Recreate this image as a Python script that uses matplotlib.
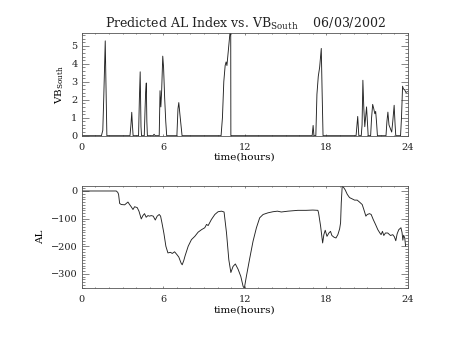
import matplotlib
matplotlib.use("Agg")
import matplotlib.pyplot as plt
from matplotlib.ticker import MultipleLocator

plt.rcParams['font.family'] = ['DejaVu Serif']
plt.rcParams['mathtext.fontset'] = 'dejavuserif'
plt.rcParams['text.color'] = '#222222'
plt.rcParams['xtick.labelcolor'] = '#222222'
plt.rcParams['ytick.labelcolor'] = '#222222'

# southward IMF driver (hours, value)
vb_time = [0.0, 1.45, 1.55, 1.62, 1.73, 1.78, 1.85,
           3.55, 3.62, 3.68, 3.72, 3.78,
           4.18, 4.24, 4.30, 4.36, 4.40,
           4.60, 4.66, 4.70, 4.75, 4.79, 4.83,
           5.25, 5.32, 5.40,
           5.70, 5.76, 5.82, 5.88, 5.96, 6.02, 6.10, 6.18, 6.25,
           7.00, 7.08, 7.14, 7.22, 7.30, 7.38,
           10.25, 10.35, 10.45, 10.55, 10.62, 10.68, 10.78, 10.90, 10.96, 10.97,
           16.95, 17.02, 17.08,
           17.22, 17.30, 17.40, 17.50, 17.62, 17.68, 17.75,
           20.18, 20.30, 20.38,
           20.56, 20.62, 20.68, 20.75, 20.82, 20.95, 21.07,
           21.25, 21.32, 21.40, 21.48, 21.56, 21.62, 21.68, 21.75,
           22.38, 22.45, 22.52, 22.60, 22.70, 22.80, 22.88, 22.98, 23.05, 23.10,
           23.45, 23.52, 23.60, 23.66, 23.75, 23.85, 23.95]
vb_value = [0, 0, 0.3, 2.1, 5.27, 3.0, 0,
            0, 0.6, 1.3, 0.7, 0,
            0, 2.0, 3.55, 0.5, 0,
            0, 1.5, 2.4, 2.93, 0.8, 0,
            0, 0.08, 0,
            0, 2.5, 1.6, 2.5, 4.42, 3.8, 2.1, 0.8, 0,
            0, 1.5, 1.84, 1.2, 0.6, 0,
            0, 1.0, 3.0, 3.9, 4.1, 3.9, 4.7, 5.68, 5.68, 0,
            0, 0.57, 0,
            0, 2.3, 3.3, 3.8, 4.85, 2.5, 0,
            0, 1.07, 0,
            0, 0.6, 3.08, 1.5, 0.5, 1.6, 0,
            0, 1.0, 1.74, 1.5, 1.22, 1.35, 0.8, 0,
            0, 0.8, 1.31, 0.6, 0.4, 0.2, 0.8, 1.69, 0.6, 0,
            0, 1.0, 2.75, 2.6, 2.55, 2.4, 2.45]

# predicted AL index (hours, nT)
al_time = [0.0, 2.54, 2.65, 2.71, 2.79, 2.91, 3.16, 3.40, 3.52, 3.64, 3.77, 3.89,
           4.08, 4.21, 4.38, 4.50, 4.62, 4.74, 4.87, 4.99, 5.11, 5.26, 5.41, 5.55,
           5.70, 5.80, 5.90, 6.04, 6.19, 6.34, 6.53, 6.66, 6.83, 7.00, 7.14, 7.31,
           7.39, 7.51, 7.60, 7.83, 8.07, 8.32, 8.56, 8.81, 9.05, 9.18, 9.30, 9.54,
           9.79, 10.03, 10.28, 10.47, 10.65, 10.82, 10.97, 11.13, 11.30, 11.50,
           11.70, 11.87, 11.96, 12.11, 12.36, 12.60, 12.85, 13.09, 13.34, 13.70,
           14.07, 14.40, 14.68, 15.17, 15.90, 16.50, 17.00, 17.37, 17.42, 17.57,
           17.72, 17.81, 17.91, 18.04, 18.18, 18.30, 18.40, 18.55, 18.70, 18.84,
           18.97, 19.04, 19.09, 19.16, 19.26, 19.38, 19.53, 19.70, 19.87, 20.07,
           20.26, 20.43, 20.63, 20.75, 20.90, 21.00, 21.17, 21.29, 21.44, 21.61,
           21.78, 21.93, 22.02, 22.12, 22.22, 22.34, 22.51, 22.71, 22.88, 23.00,
           23.10, 23.20, 23.32, 23.48, 23.56, 23.62, 23.68, 23.76, 23.82]
al_value = [0, 0, -5, -12, -45, -49, -50, -40, -49, -57, -67, -57,
            -60, -73, -101, -89, -82, -95, -89, -91, -89, -91, -105, -91,
            -85, -91, -115, -152, -200, -224, -222, -226, -220, -230, -239, -261,
            -267, -251, -235, -200, -176, -164, -149, -140, -133, -121, -125, -103,
            -85, -75, -73, -76, -152, -249, -295, -273, -264, -283,
            -309, -345, -352, -309, -243, -182, -133, -97, -85, -79,
            -75, -73, -76, -73, -70, -70, -69, -70, -79, -127,
            -188, -158, -142, -164, -152, -146, -161, -167, -170, -158,
            -137, -115, -43, 18, 13, 4, -12, -24, -28, -33,
            -33, -40, -49, -67, -91, -85, -82, -85, -103, -121,
            -140, -152, -158, -146, -161, -152, -152, -161, -158, -166,
            -180, -155, -140, -133, -150, -178, -160, -170, -199]

xticks = [0, 6, 12, 18, 24]

fig = plt.figure(figsize=(4.53, 3.40), dpi=100)
ax1 = fig.add_axes([0.1804, 0.6009, 0.7203, 0.3006])
ax2 = fig.add_axes([0.1804, 0.1521, 0.7203, 0.3008])


def style(ax, ymajor, yminor):
    ax.set_xlim(0, 24)
    ax.set_xticks(xticks)
    ax.xaxis.set_minor_locator(MultipleLocator(1))
    ax.yaxis.set_major_locator(MultipleLocator(ymajor))
    ax.yaxis.set_minor_locator(MultipleLocator(yminor))
    ax.tick_params(which='both', direction='in', top=True, right=True,
                   width=0.5, color='#555555', labelsize=7)
    ax.tick_params(axis='x', which='major', length=1.6, pad=5)
    ax.tick_params(axis='x', which='minor', length=0.8)
    ax.tick_params(axis='y', which='major', length=4.7, pad=3)
    ax.tick_params(axis='y', which='minor', length=2.4)
    for s in ax.spines.values():
        s.set_linewidth(0.6)
        s.set_color('#555555')
    ax.set_xlabel('time(hours)', fontsize=7.5, labelpad=1)


ax1.plot(vb_time, vb_value, color='#222222', lw=0.65)
style(ax1, 1, 0.2)
ax1.set_ylim(0, 5.68)
ax1.set_ylabel('VB$_{\\mathrm{South}}$', fontsize=7.5, labelpad=4)
ax1.set_title('Predicted AL Index vs. VB$_{\\mathrm{South}}$    06/03/2002',
              fontsize=9, pad=4)

ax2.plot(al_time, al_value, color='#222222', lw=0.65)
style(ax2, 100, 10)
ax2.set_ylim(-352, 18)
ax2.set_ylabel('AL', fontsize=7.5, labelpad=4)

fig.savefig('out.png', dpi=100)
